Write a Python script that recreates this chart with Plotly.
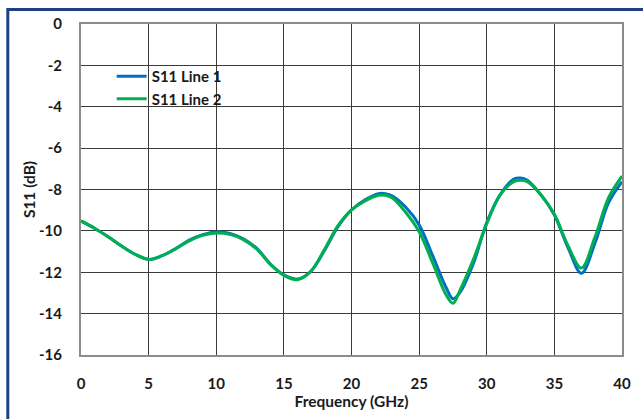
import plotly.graph_objects as go

freq = [0, 1, 2, 3, 4, 5, 6, 7, 8, 9, 10, 11, 12, 13, 14, 15, 16, 17, 18, 19, 20,
        21, 22, 22.5, 23, 24, 25, 26, 27, 27.5, 28, 29, 30, 31, 32, 32.5, 33, 34,
        35, 36, 37, 38, 39, 40]

s11_line1 = [-9.52, -9.87, -10.28, -10.73, -11.13, -11.38, -11.2, -10.85, -10.45,
             -10.18, -10.05, -10.12, -10.38, -10.85, -11.6, -12.13, -12.33, -11.95,
             -10.95, -9.8, -8.99, -8.5, -8.2, -8.2, -8.3, -8.85, -9.71, -11.2,
             -12.75, -13.28, -13.0, -11.6, -9.6, -8.25, -7.5, -7.45, -7.55, -8.25,
             -9.23, -10.8, -12.05, -10.6, -8.65, -7.62]

s11_line2 = [-9.52, -9.87, -10.28, -10.73, -11.13, -11.38, -11.2, -10.87, -10.48,
             -10.22, -10.1, -10.17, -10.42, -10.88, -11.62, -12.15, -12.36, -11.95,
             -10.9, -9.75, -8.99, -8.55, -8.28, -8.28, -8.4, -9.1, -10.04, -11.55,
             -13.1, -13.5, -12.9, -11.4, -9.65, -8.25, -7.62, -7.55, -7.62, -8.25,
             -9.2, -10.7, -11.8, -10.3, -8.4, -7.35]

series_names = ["S11 Line 1", "S11 Line 2"]
x_ticks = [0, 5, 10, 15, 20, 25, 30, 35, 40]
y_ticks = [0, -2, -4, -6, -8, -10, -12, -14, -16]

FONT = "Lato"

fig = go.Figure()
fig.add_trace(go.Scatter(x=freq, y=s11_line1, mode="lines", name=series_names[0],
                         line=dict(color="#0070C0", width=3, shape="spline")))
fig.add_trace(go.Scatter(x=freq, y=s11_line2, mode="lines", name=series_names[1],
                         line=dict(color="#00B050", width=3, shape="spline")))

# white box behind legend text, above gridlines
fig.add_shape(type="rect", xref="paper", yref="paper",
              x0=(148 - 81) / 547, x1=(228 - 81) / 547,
              y0=(355 - 107) / 331, y1=(355 - 63) / 331,
              fillcolor="white", line=dict(width=0), layer="between")

# outer navy frame of the figure
fig.add_shape(type="rect", xref="paper", yref="paper",
              x0=(7 - 81) / 547, x1=(660 - 81) / 547,
              y0=(355 - 440) / 331, y1=(355 - 9.5) / 331,
              fillcolor="rgba(0,0,0,0)", line=dict(color="#1F3F86", width=3),
              layer="above")

fig.update_layout(
    width=643, height=419,
    margin=dict(l=81, r=15, t=24, b=64),
    paper_bgcolor="white", plot_bgcolor="white",
    font=dict(family=FONT, size=15, color="#1a1a1a"),
    showlegend=True,
    legend=dict(x=(112 - 81) / 547, y=(355 - 60) / 331, xanchor="left", yanchor="top",
                bgcolor="rgba(0,0,0,0)", borderwidth=0,
                font=dict(family=FONT, size=15, color="#1a1a1a", weight="bold"),
                tracegroupgap=0),
    xaxis=dict(range=[0, 40], tickvals=x_ticks, ticktext=[str(v) for v in x_ticks],
               showgrid=True, gridcolor="#3a3a3a", gridwidth=1,
               showline=True, linecolor="#8c8c8c", linewidth=2, mirror=True,
               ticks="", zeroline=False, ticklabelstandoff=14,
               tickfont=dict(family=FONT, size=15, weight="bold"),
               title=dict(text="<b>Frequency (GHz)</b>", standoff=2,
                          font=dict(family=FONT, size=15.5))),
    yaxis=dict(range=[-16, 0], tickvals=y_ticks, ticktext=[str(v) for v in y_ticks],
               showgrid=True, gridcolor="#3a3a3a", gridwidth=1,
               showline=True, linecolor="#8c8c8c", linewidth=2, mirror=True,
               ticks="", zeroline=False, ticklabelstandoff=14,
               tickfont=dict(family=FONT, size=15, weight="bold"),
               title=dict(text="<b>S11 (dB)</b>", standoff=0,
                          font=dict(family=FONT, size=15.5))),
)

fig.write_html("out.html",
               config={"displayModeBar": False},
               post_script="document.body.style.margin='0';document.body.style.overflow='hidden';")
